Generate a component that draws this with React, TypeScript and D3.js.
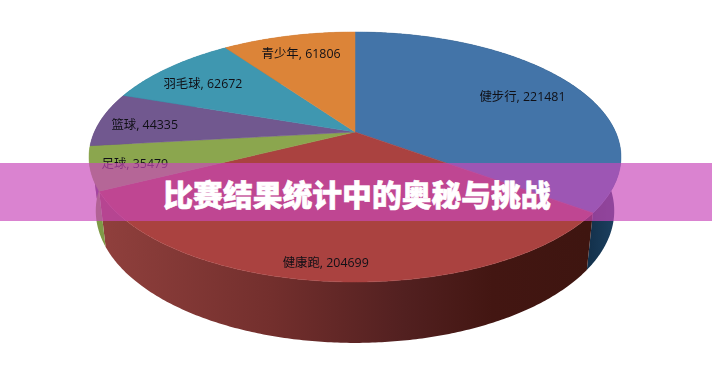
import React from "react";
import * as d3 from "d3";

const categories = ["健步行", "健康跑", "足球", "篮球", "羽毛球", "青少年"];
const values = [221481, 204699, 35479, 44335, 62672, 61806];
const topColors = ["#4374a8", "#aa4240", "#8ba64e", "#71588f", "#3f97b0", "#dc8438"];
const sideColors = ["url(#sideBlue)", "url(#sideRed)", "#7f9a47", "#553f6e", "#2c7086", "#a8642a"];
const title = "比赛结果统计中的奥秘与挑战";

// Where each label sits: fraction of the radius, and a small angle nudge in radians.
const labelRadii = [0.75, 0.9, 0.84, 0.82, 0.77, 0.785];
const labelNudges = [0.04, 0.017, -0.01, -0.03, -0.04, 0];

const W = 712, H = 385;
const P = 0.2; // perspective strength of the tilted disc
const project = (cx: number, cy: number, rx: number, ry: number) => (theta: number, r = 1): [number, number] => {
  const u = r * Math.sin(theta);
  const v = -r * Math.cos(theta);
  const w = 1 - P * v;
  return [cx + (rx * u) / w, cy + (ry * v) / w];
};
const top = project(355, 132, 260.6, 120);
const bottom = project(355, 184.4, 254, 126.8);

const arcs = d3.pie<number>().sort(null)(values);
const line = d3.line();
const samples = (a: number, b: number) => {
  const n = Math.max(2, Math.ceil((b - a) / 0.01));
  return d3.range(n + 1).map((i) => a + ((b - a) * i) / n);
};

export default function App() {
  return (
    <svg width={W} height={H} viewBox={`0 0 ${W} ${H}`}
      style={{ position: "absolute", left: 0, top: 0, display: "block", background: "#fff" }}>
      <defs>
        <linearGradient id="sideRed" gradientUnits="userSpaceOnUse" x1="100" x2="590" y1="0" y2="0">
          <stop offset="0" stopColor="#90403d" />
          <stop offset="0.35" stopColor="#732f2d" />
          <stop offset="0.62" stopColor="#522020" />
          <stop offset="0.8" stopColor="#431612" />
          <stop offset="1" stopColor="#3e1510" />
        </linearGradient>
        <linearGradient id="sideBlue" gradientUnits="userSpaceOnUse" x1="586" x2="615" y1="0" y2="0">
          <stop offset="0" stopColor="#122f49" />
          <stop offset="1" stopColor="#1c4060" />
        </linearGradient>
      </defs>
      <g style={{ filter: "blur(0.35px)" }}>
        {arcs.map((a, i) => {
          const ts = samples(a.startAngle, a.endAngle);
          const pts = [...ts.map((t) => top(t)), ...ts.slice().reverse().map((t) => bottom(t))];
          return <path key={i} d={line(pts) + "Z"} fill={sideColors[i]} />;
        })}
        {arcs.map((a, i) => {
          const pts = [top(0, 0), ...samples(a.startAngle, a.endAngle).map((t) => top(t))];
          return <path key={i} d={line(pts) + "Z"} fill={topColors[i]} stroke={topColors[i]} strokeWidth={0.5} />;
        })}
        {arcs.map((a, i) => {
          const [x, y] = top((a.startAngle + a.endAngle) / 2 + labelNudges[i], labelRadii[i]);
          return (
            <text key={i} x={x} y={y} textAnchor="middle" dominantBaseline="central"
              fontFamily="'Open Sans','Noto Sans CJK SC',sans-serif" fontSize={12.4} fill="#101016">
              {`${categories[i]}, ${values[i]}`}
            </text>
          );
        })}
      </g>
      <rect x={0} y={163} width={W} height={58} fill="rgb(200,72,186)" fillOpacity={0.68} />
      <text x={357} y={193} textAnchor="middle" dominantBaseline="central"
        fontFamily="'Noto Sans CJK SC',sans-serif" fontWeight={900} fontSize={29.8}
        fill="#fff" stroke="#fff" strokeWidth={0.6}>
        {title}
      </text>
    </svg>
  );
}
